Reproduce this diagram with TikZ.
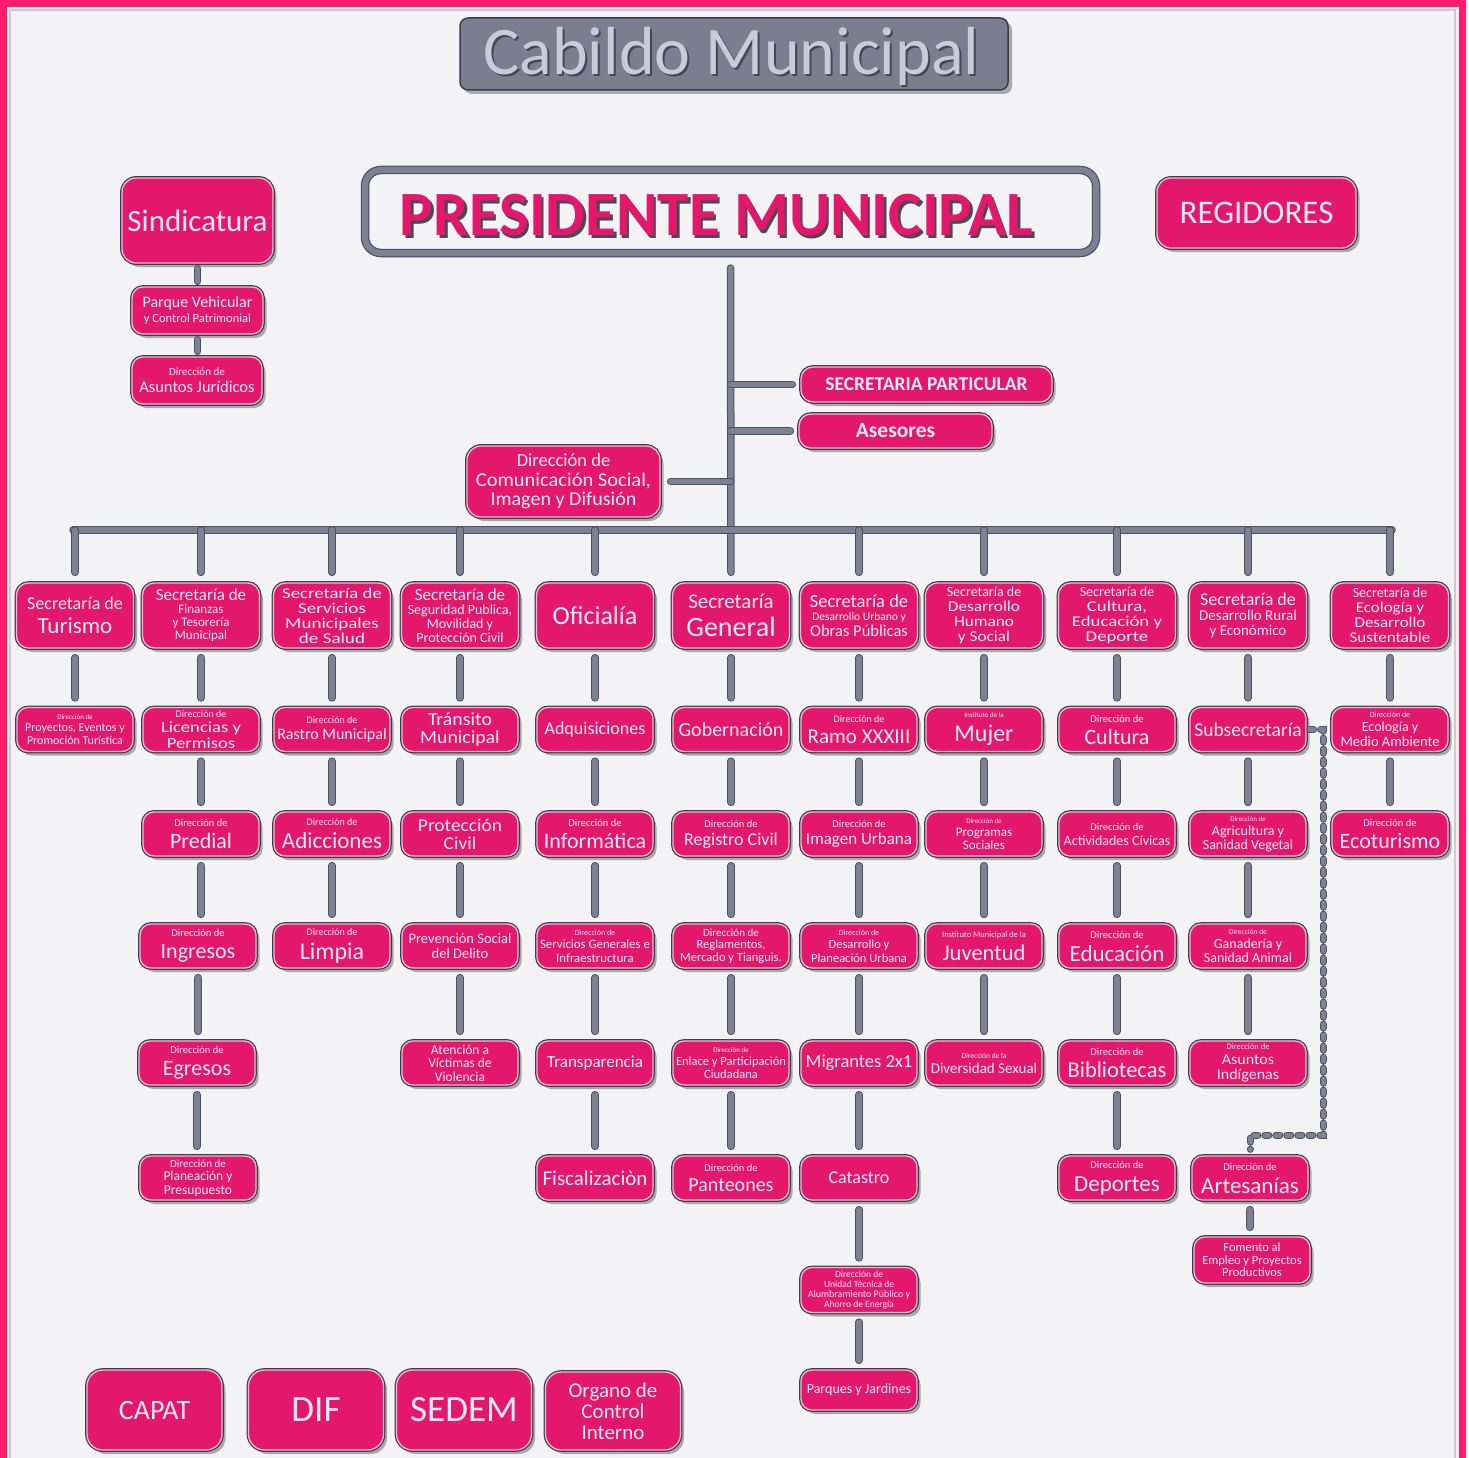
\documentclass[tikz,border=0pt]{standalone}
\usepackage{fontspec}
\usepackage{graphicx}
\setmainfont{Carlito}
\usetikzlibrary{shadows}
\definecolor{pk}{HTML}{E3186D}
\definecolor{pkline}{HTML}{F6B9D3}
\definecolor{dk}{HTML}{3E3F4A}
\definecolor{cg}{HTML}{7C8193}
\definecolor{cgd}{HTML}{4E515E}
\definecolor{bgc}{HTML}{F3F2F5}
\definecolor{frm}{HTML}{FF1C6F}
\definecolor{tw}{HTML}{FDEAF2}
\definecolor{cabg}{HTML}{7A7E90}
\definecolor{cabtx}{HTML}{C9CCD6}
\definecolor{cabsh}{HTML}{44475A}
\definecolor{prsh}{HTML}{4A4A55}
\newcommand\BX[1]{\makebox[0pt]{\parbox[c]{300pt}{\centering\lineskiplimit=-200pt\relax#1}}}
\newcommand\LN[3]{{\fontsize{#1}{#2}\selectfont#3\par}}
\newcommand\LH[4]{{\fontsize{#1}{#2}\selectfont\scalebox{#3}[1]{#4}\par}}
\tikzset{
 box/.style={rectangle, fill=pk, draw=pkline, line width=1.3pt, text=tw, inner sep=0pt, rounded corners=11pt,
   drop shadow={shadow xshift=3.5pt, shadow yshift=-4pt, opacity=0.3, fill=black},
   preaction={draw=dk, line width=3.8pt}},
 b1/.style={box, minimum width=117pt, minimum height=65pt, rounded corners=12pt},
 bn/.style={box, minimum width=116pt, minimum height=44pt},
 bb/.style={box, minimum width=135pt, minimum height=80pt, rounded corners=16pt},
 conn/.style={draw=cg, line width=5.5pt, line cap=round, preaction={draw=cgd, line width=7.5pt, line cap=round}},
 vconn/.style={conn, shorten <=9pt, shorten >=9pt},
 dconn/.style={draw=cg, line width=5pt, line cap=round, dash pattern=on 4pt off 7pt,
   preaction={draw=cgd, line width=7pt, line cap=round, dash pattern=on 4pt off 7pt}},
}
\begin{document}
\begin{tikzpicture}[x=1pt,y=-1pt]
\useasboundingbox (0,0) rectangle (1469,1458);
\fill[bgc] (0,0) rectangle (1469,1458);
\draw[gray!40, line width=1.5pt] (10,10) rectangle (1455,1475);
\draw[frm, line width=7pt] (3.5,3.5) rectangle (1462.5,1475);

% ---- top ----
\node[draw=dk, line width=1.5pt, fill=cabg, rounded corners=8pt, minimum width=548pt, minimum height=72pt, inner sep=0pt,
  drop shadow={shadow xshift=4pt, shadow yshift=-4pt, opacity=0.3, fill=black}] (cabildo) at (734,54) {};
\node[anchor=base, text=cabsh, inner sep=0pt] (cabTs) at (733.5,76.5) {\fontsize{68}{68}\selectfont Cabildo Municipal};
\node[anchor=base, text=cabtx, inner sep=0pt] (cabT) at (731.5,75) {\fontsize{68}{68}\selectfont Cabildo Municipal};

\node[draw=cg, line width=6pt, rounded corners=16pt, minimum width=731pt, minimum height=83pt, inner sep=0pt,
  preaction={draw=cgd, line width=8.5pt}] (pres) at (730.5,211.5) {};
\node[anchor=base, text=prsh, inner sep=0pt] (presTs) at (719,238.5) {\resizebox{633pt}{!}{\bfseries\fontsize{60}{60}\selectfont PRESIDENTE MUNICIPAL}};
\node[anchor=base, text=pk, inner sep=0pt] (presT) at (716.5,236) {\resizebox{633pt}{!}{\bfseries\fontsize{60}{60}\selectfont PRESIDENTE MUNICIPAL}};

\node[box, minimum width=151pt, minimum height=85pt, rounded corners=14pt] (sind) at (197.5,220.5) {\BX{\LN{31}{31}{Sindicatura}}};
\node[box, minimum width=131pt, minimum height=47pt] (parque) at (197.5,310.5) {\BX{\LN{16}{16}{Parque Vehicular}\LN{12.5}{15}{y Control Patrimonial}}};
\node[box, minimum width=130pt, minimum height=47pt] (asjur) at (197,380.5) {\BX{\LN{11}{11}{Dirección de}\LN{16.5}{17}{Asuntos Jurídicos}}};
\node[box, minimum width=199pt, minimum height=70pt, rounded corners=14pt] (regid) at (1256.5,213) {\BX{\LN{33}{33}{REGIDORES}}};
\node[box, minimum width=251pt, minimum height=35pt, rounded corners=12pt] (secpart) at (926.5,384.5) {\BX{\LN{19.5}{19.5}{\bfseries SECRETARIA PARTICULAR}}};
\node[box, minimum width=193pt, minimum height=34pt, rounded corners=12pt] (asesores) at (895.5,431) {\BX{\LN{21.5}{21.5}{\bfseries Asesores}}};
\node[box, minimum width=193pt, minimum height=71pt, rounded corners=14pt] (comunic) at (563.5,481.5) {\BX{\LN{18.5}{18.5}{Dirección de}\LH{19.5}{19.5}{1.05}{Comunicación Social,}\LH{19.5}{19.5}{1.03}{Imagen y Difusión}}};

% ---- row 1 ----
\node[b1] (turismo) at (75,615.5) {\BX{\LN{18}{18}{Secretaría de}\LN{23}{24}{Turismo}}};
\node[b1] (finan) at (201,615.5) {\BX{\LN{17}{17}{Secretaría de}\LN{13}{13}{Finanzas}\LN{13}{13}{y Tesorería}\LN{13}{13}{Municipal}}};
\node[b1] (servm) at (332,615.5) {\BX{\LH{15}{15}{1.25}{Secretaría de}\LH{15}{15}{1.27}{Servicios}\LH{15}{15}{1.27}{Municipales}\LH{15}{15}{1.27}{de Salud}}};
\node[b1] (segur) at (460,615.5) {\BX{\LN{17}{17}{Secretaría de}\LN{14}{14}{Seguridad Publica,}\LN{14}{14}{Movilidad y}\LN{14}{14}{Protección Civil}}};
\node[b1] (ofic) at (595,615.5) {\BX{\LN{26}{26}{Oficialía}}};
\node[b1] (secgen) at (731,615.5) {\BX{\LN{21}{21}{Secretaría}\LN{28}{28}{General}}};
\node[b1] (desurb) at (859,615.5) {\BX{\LN{18.5}{18.5}{Secretaría de}\LN{11.5}{13}{Desarrollo Urbano y}\LN{16.5}{16.5}{Obras Públicas}}};
\node[b1] (deshum) at (984,615.5) {\BX{\LN{14}{14}{Secretaría de}\LH{15}{15}{1.15}{Desarrollo}\LH{15}{15}{1.15}{Humano}\LH{15}{15}{1.15}{y Social}}};
\node[b1] (cultsec) at (1117,615.5) {\BX{\LN{14}{14}{Secretaría de}\LH{15}{15}{1.25}{Cultura,}\LH{15}{15}{1.25}{Educación y}\LH{15}{15}{1.25}{Deporte}}};
\node[b1] (rural) at (1248,615.5) {\BX{\LN{18}{18}{Secretaría de}\LN{15}{15}{Desarrollo Rural}\LN{15}{15}{y Económico}}};
\node[b1] (ecol) at (1390,615.5) {\BX{\LN{14}{14}{Secretaría de}\LH{15}{15}{1.13}{Ecología y}\LH{15}{15}{1.13}{Desarrollo}\LH{15}{15}{1.13}{Sustentable}}};

% ---- row 2 ----
\node[bn] (proy) at (75,729.5) {\BX{\LN{7}{7}{Dirección de}\LN{12}{12}{Proyectos, Eventos y}\LN{12}{13}{Promoción Turística}}};
\node[bn] (lic) at (201,729.5) {\BX{\LN{10}{10}{Dirección de}\LH{15.5}{15.5}{1.2}{Licencias y}\LH{15.5}{15.5}{1.2}{Permisos}}};
\node[bn] (rastro) at (332,729.5) {\BX{\LN{10}{10}{Dirección de}\LN{16}{16}{Rastro Municipal}}};
\node[bn] (trans) at (460,729.5) {\BX{\LH{18.5}{18.5}{1.07}{Tránsito}\LH{18.5}{18.5}{1.07}{Municipal}}};
\node[bn] (adq) at (595,729.5) {\BX{\LN{18}{18}{Adquisiciones}}};
\node[bn] (gob) at (731,729.5) {\BX{\LN{20}{20}{Gobernación}}};
\node[bn] (ramo) at (859,729.5) {\BX{\LN{10}{10}{Dirección de}\LN{21}{21}{Ramo XXXIII}}};
\node[bn] (mujer) at (984,729.5) {\BX{\LN{7}{7}{Instituto de la}\LN{24}{24}{Mujer}}};
\node[bn] (cultd) at (1117,729.5) {\BX{\LN{10.5}{10.5}{Dirección de}\LN{22}{22}{Cultura}}};
\node[bn] (subsec) at (1248,729.5) {\BX{\LN{19.5}{20}{Subsecretaría}}};
\node[bn] (ecolma) at (1390,729.5) {\BX{\LN{8}{8}{Dirección de}\LN{14}{14}{Ecología y}\LN{14.5}{14.5}{Medio Ambiente}}};

% ---- row 3 ----
\node[bn] (predial) at (201,834) {\BX{\LN{10.5}{10.5}{Dirección de}\LN{22}{22}{Predial}}};
\node[bn] (adic) at (332,834) {\BX{\LN{10}{10}{Dirección de}\LN{23}{23}{Adicciones}}};
\node[bn] (protc) at (460,834) {\BX{\LH{18}{18}{1.08}{Protección}\LH{18}{18}{1.08}{Civil}}};
\node[bn] (inform) at (595,834) {\BX{\LN{10.5}{10.5}{Dirección de}\LN{22}{22}{Informática}}};
\node[bn] (regciv) at (731,834) {\BX{\LN{10.5}{10.5}{Dirección de}\LN{18}{18}{Registro Civil}}};
\node[bn] (imagen) at (859,834) {\BX{\LN{10.5}{10.5}{Dirección de}\LN{17}{17}{Imagen Urbana}}};
\node[bn] (progs) at (984,834) {\BX{\LN{7}{7}{Dirección de}\LN{13}{13}{Programas}\LN{13}{13}{Sociales}}};
\node[bn] (activ) at (1117,834) {\BX{\LN{10.5}{10.5}{Dirección de}\LN{14}{15}{Actividades Cívicas}}};
\node[bn] (agri) at (1248,834) {\BX{\LN{7}{7}{Dirección de}\LN{14}{14}{Agricultura y}\LN{14}{14}{Sanidad Vegetal}}};
\node[bn] (ecot) at (1390,834) {\BX{\LN{10.5}{10.5}{Dirección de}\LN{22}{22}{Ecoturismo}}};

% ---- row 4 ----
\node[bn] (ingr) at (198,946) {\BX{\LN{10.5}{10.5}{Dirección de}\LN{22}{22}{Ingresos}}};
\node[bn] (limpia) at (332,946) {\BX{\LN{10}{10}{Dirección de}\LN{24}{24}{Limpia}}};
\node[bn] (prev) at (460,946) {\BX{\LN{14.5}{14.5}{Prevención Social}\LN{14.5}{15}{del Delito}}};
\node[bn] (servg) at (595,946) {\BX{\LN{8}{8}{Dirección de}\LN{12.8}{13}{Servicios Generales e}\LN{12.8}{14}{Infraestructura}}};
\node[bn] (regl) at (731,946) {\BX{\LN{11}{11}{Dirección de}\LN{12.5}{12.5}{Reglamentos,}\LN{12.5}{12.5}{Mercado y Tianguis.}}};
\node[bn] (desplan) at (859,946) {\BX{\LN{8}{8}{Dirección de}\LN{12.5}{13}{Desarrollo y}\LN{12.5}{14}{Planeación Urbana}}};
\node[bn] (juv) at (984,946) {\BX{\LN{8.5}{8.5}{Instituto Municipal de la}\LN{22.5}{22.5}{Juventud}}};
\node[bn] (educ) at (1117,946) {\BX{\LN{10.5}{10.5}{Dirección de}\LN{23}{23}{Educación}}};
\node[bn] (ganad) at (1248,946) {\BX{\LN{7.5}{7.5}{Dirección de}\LN{14}{14}{Ganadería y}\LN{14}{14}{Sanidad Animal}}};

% ---- row 5 ----
\node[bn] (egr) at (197,1063) {\BX{\LN{10.5}{10.5}{Dirección de}\LN{22}{22}{Egresos}}};
\node[bn] (atenc) at (460,1063) {\BX{\LN{13.5}{13.5}{Atención a}\LN{13.5}{13.5}{Víctimas de}\LN{13.5}{13.5}{Violencia}}};
\node[bn] (transp) at (595,1063) {\BX{\LN{17}{17}{Transparencia}}};
\node[bn] (enlace) at (731,1063) {\BX{\LN{7}{7}{Dirección de}\LN{12.5}{12.5}{Enlace y Participación}\LN{12.5}{13}{Ciudadana}}};
\node[bn] (migr) at (859,1063) {\BX{\LN{18.5}{18.5}{Migrantes 2x1}}};
\node[bn] (divers) at (984,1063) {\BX{\LN{7.5}{7.5}{Dirección de la}\LN{15}{15}{Diversidad Sexual}}};
\node[bn] (biblio) at (1117,1063) {\BX{\LN{10.5}{10.5}{Dirección de}\LN{22.5}{22.5}{Bibliotecas}}};
\node[bn] (asind) at (1248,1063) {\BX{\LN{8.5}{8.5}{Dirección de}\LH{15}{15}{1.07}{Asuntos}\LH{15}{15}{1.07}{Indígenas}}};

% ---- row 6 ----
\node[bn] (planp) at (198,1178) {\BX{\LN{11}{11}{Dirección de}\LN{13.5}{13.5}{Planeación y}\LN{13.5}{13.5}{Presupuesto}}};
\node[bn] (fisc) at (595,1178) {\BX{\LN{21}{21}{Fiscalizaciòn}}};
\node[bn] (pant) at (731,1178) {\BX{\LN{10.5}{10.5}{Dirección de}\LN{20}{20}{Panteones}}};
\node[bn] (catas) at (859,1178) {\BX{\LN{18}{18}{Catastro}}};
\node[bn] (deport) at (1117,1178) {\BX{\LN{10.5}{10.5}{Dirección de}\LN{23}{23}{Deportes}}};
\node[bn] (artes) at (1250,1178) {\BX{\LN{10.5}{10.5}{Dirección de}\LN{23}{23}{Artesanías}}};

% ---- extra ----
\node[bn, minimum height=45pt] (alumb) at (859,1290) {\BX{\LN{9.5}{9.5}{Dirección de}\LN{9.5}{9.5}{Unidad Técnica de}\LN{10}{10}{Alumbramiento Público y}\LN{9.5}{10}{Ahorro de Energía}}};
\node[bn, minimum height=40pt] (parques) at (859,1390) {\BX{\LN{14}{14}{Parques y Jardines}}};
\node[bn, minimum height=46pt] (fomento) at (1252,1260) {\BX{\LN{12.5}{12.5}{Fomento al}\LN{12.5}{12.5}{Empleo y Proyectos}\LN{12.5}{12.5}{Productivos}}};

% ---- bottom ----
\node[bb] (capat) at (154.5,1410) {\BX{\LN{28}{28}{CAPAT}}};
\node[bb] (dif) at (316,1410) {\BX{\LN{37}{37}{DIF}}};
\node[bb] (sedem) at (464,1410) {\BX{\LN{37}{37}{SEDEM}}};
\node[bb, minimum height=78pt] (organo) at (613,1411) {\BX{\LN{21}{21}{Organo de}\LN{21}{21}{Control}\LN{21}{21}{Interno}}};

% ---- connectors ----
\draw[vconn, shorten <=5pt, shorten >=5pt] (sind.south) -- (sind.south |- parque.north);
\draw[vconn, shorten <=5pt, shorten >=5pt] (parque.south) -- (parque.south |- asjur.north);

\draw[conn, shorten <=12pt, shorten >=10pt] (pres.south) -- (secgen.north);
\coordinate (jSP) at (pres.south |- secpart.west);
\coordinate (jAS) at (pres.south |- asesores.west);
\coordinate (jCO) at (pres.south |- comunic.east);
\draw[conn, shorten >=8pt] (jSP) -- (secpart.west);
\draw[conn, shorten >=8pt] (jAS) -- (asesores.west);
\draw[conn, shorten >=10pt] (jCO) -- (comunic.east);

\coordinate (busL) at (73,530);
\coordinate (busR) at (1392,530);
\draw[conn] (busL) -- (busR);
\foreach \n in {turismo,finan,servm,segur,ofic,desurb,deshum,cultsec,rural,ecol}
  \draw[conn, shorten >=10pt] (\n.north |- busL) -- (\n.north);

\foreach \a/\b in {turismo/proy, finan/lic, lic/predial, predial/ingr, ingr/egr, egr/planp,
  servm/rastro, rastro/adic, adic/limpia,
  segur/trans, trans/protc, protc/prev, prev/atenc,
  ofic/adq, adq/inform, inform/servg, servg/transp, transp/fisc,
  secgen/gob, gob/regciv, regciv/regl, regl/enlace, enlace/pant,
  desurb/ramo, ramo/imagen, imagen/desplan, desplan/migr, migr/catas, catas/alumb, alumb/parques,
  deshum/mujer, mujer/progs, progs/juv, juv/divers,
  cultsec/cultd, cultd/activ, activ/educ, educ/biblio, biblio/deport,
  rural/subsec, subsec/agri, agri/ganad, ganad/asind, artes/fomento,
  ecol/ecolma, ecolma/ecot}
  \draw[vconn] (\a.south) -- (\a.south |- \b.north);

\coordinate (dA) at (1323,1135);
\draw[dconn, shorten <=3pt, shorten >=6pt] (subsec.east) -| (dA) -| (artes.north);
\end{tikzpicture}
\end{document}
